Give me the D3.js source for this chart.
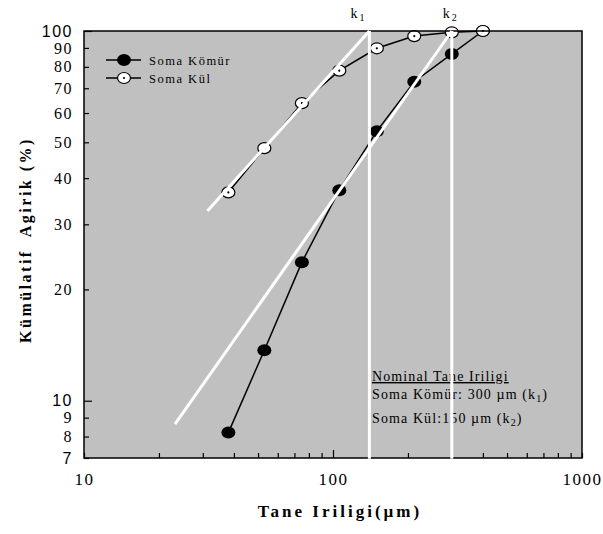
<!DOCTYPE html>
<html>
<head>
<meta charset="utf-8">
<script src="https://cdn.jsdelivr.net/npm/d3@7"></script>
<style>
  body { margin: 0; background: #fff; }
  text { font-family: "Liberation Serif", "Times New Roman", serif; fill: #000; }
  .sans { font-family: "Liberation Sans", Arial, sans-serif; }
</style>
</head>
<body>
<svg id="chart" width="603" height="534"></svg>
<script>
// sieve sizes (µm) and cumulative weight (%)
const sieveSizes = [38, 53, 75, 106, 150, 212, 300, 400];
const komurValues = [8.2, 13.7, 23.7, 37.1, 53.6, 72.9, 86.7, 100];
const kulValues = [36.6, 48.2, 63.8, 78.1, 89.8, 96.9, 99.2, 100];

// white guide lines drawn by hand on the original
const kulFitX = [31.3, 140];
const kulFitY = [32.6, 100];
const komurFitX = [23.2, 300];
const komurFitY = [8.65, 100];
const kLines = [140, 300];
const kNames = ['1', '2'];

const yTicks = [7, 8, 9, 10, 20, 30, 40, 50, 60, 70, 80, 90, 100];
const xTicks = [10, 20, 30, 40, 50, 60, 70, 80, 90, 100, 200, 300, 400, 500, 600, 700, 800, 900, 1000];
const xLabels = [10, 100, 1000];

const plotLeft = 84, plotRight = 582, plotTop = 31, plotBottom = 458;
const kLabelShift = [-19, -9]; // label offset from its line

const svg = d3.select('#chart');

const x = d3.scaleLog().domain([10, 1000]).range([plotLeft, plotRight]);
const y = d3.scaleLog().domain([7, 100]).range([plotBottom, plotTop]);

// plot background
svg.append('rect')
    .attr('x', plotLeft).attr('y', plotTop)
    .attr('width', plotRight - plotLeft).attr('height', plotBottom - plotTop)
    .attr('fill', '#c0c0c0');

// y axis, ticks pointing inwards
const yAxis = svg.append('g')
    .attr('transform', `translate(${plotLeft},0)`)
    .call(d3.axisLeft(y).tickValues(yTicks).tickSize(-5).tickPadding(11).tickFormat(d3.format('d')));
yAxis.select('.domain').remove();
yAxis.selectAll('.tick line').attr('x2', d => (d === 10 || d === 100) ? 8 : 5).attr('stroke-width', 1.2);
yAxis.selectAll('.tick text')
    .attr('class', d => (d === 100 || d === 10 || d === 7) ? 'sans' : null)
    .style('font-size', '16px')
    .style('letter-spacing', '1.5px');

// x axis
const xAxis = svg.append('g')
    .attr('transform', `translate(0,${plotBottom})`)
    .call(d3.axisBottom(x).tickValues(xTicks).tickSize(-5).tickPadding(15)
        .tickFormat(d => xLabels.includes(d) ? d : ''));
xAxis.select('.domain').remove();
xAxis.selectAll('.tick line').attr('y2', d => d === 100 ? -8 : -5).attr('stroke-width', 1.2);
xAxis.selectAll('.tick text')
    .style('font-size', '17px')
    .style('letter-spacing', '1.5px');

// axis titles
svg.append('text')
    .attr('transform', `translate(31,240)rotate(-90)`)
    .attr('text-anchor', 'middle')
    .style('font-size', '16px')
    .style('font-weight', 'bold')
    .style('letter-spacing', '2.5px')
    .style('white-space', 'pre')
    .text('Kümülatif  Agirik (%)');

svg.append('text')
    .attr('x', 340).attr('y', 517)
    .attr('text-anchor', 'middle')
    .style('font-size', '17px')
    .style('font-weight', 'bold')
    .style('letter-spacing', '3px')
    .text('Tane Iriligi(µm)');

// series
const komur = sieveSizes.map((s, i) => [s, komurValues[i]]);
const kul = sieveSizes.map((s, i) => [s, kulValues[i]]);
const line = d3.line().x(d => x(d[0])).y(d => y(d[1]));

svg.append('path').datum(komur)
    .attr('d', line).attr('fill', 'none').attr('stroke', '#000').attr('stroke-width', 1.5);
svg.append('path').datum(kul)
    .attr('d', line).attr('fill', 'none').attr('stroke', '#000').attr('stroke-width', 1.5);

svg.append('g').selectAll('ellipse').data(komur).join('ellipse')
    .attr('cx', d => x(d[0])).attr('cy', d => y(d[1]))
    .attr('rx', 7).attr('ry', 6).attr('fill', '#000');

const kulMarks = svg.append('g').selectAll('g').data(kul).join('g')
    .attr('transform', d => `translate(${x(d[0])},${y(d[1])})`);
kulMarks.append('ellipse').attr('rx', 6.5).attr('ry', 5.5)
    .attr('fill', '#fff').attr('stroke', '#000').attr('stroke-width', 1.2);
kulMarks.append('circle').attr('r', 1.1).attr('fill', '#000');

// legend
const legend = [
    { name: 'Soma Kömür', filled: true },
    { name: 'Soma Kül', filled: false }
];
legend.forEach((l, i) => {
    const ly = 60 + i * 18;
    svg.append('line').attr('x1', 106).attr('x2', 141).attr('y1', ly).attr('y2', ly)
        .attr('stroke', '#000').attr('stroke-width', 1.5);
    if (l.filled) {
        svg.append('ellipse').attr('cx', 124).attr('cy', ly).attr('rx', 7).attr('ry', 6).attr('fill', '#000');
    } else {
        svg.append('ellipse').attr('cx', 124).attr('cy', ly).attr('rx', 6.5).attr('ry', 5.5)
            .attr('fill', '#fff').attr('stroke', '#000').attr('stroke-width', 1.2);
        svg.append('circle').attr('cx', 124).attr('cy', ly).attr('r', 1.1).attr('fill', '#000');
    }
    svg.append('text').attr('x', 149).attr('y', ly + 4.5)
        .style('font-size', '12.5px').style('letter-spacing', '1.5px')
        .text(l.name);
});

// annotation
const note = svg.append('g').style('font-size', '14px').style('letter-spacing', '1.1px');
note.append('text').attr('x', 372).attr('y', 381)
    .style('text-decoration', 'underline')
    .text('Nominal Tane Iriligi');
const n1 = note.append('text').attr('x', 372).attr('y', 399).text('Soma Kömür: 300 µm (k');
n1.append('tspan').attr('dy', 3).style('font-size', '10px').text('1');
n1.append('tspan').attr('dy', -3).text(')');
const n2 = note.append('text').attr('x', 372).attr('y', 423).text('Soma Kül:150 µm (k');
n2.append('tspan').attr('dy', 3).style('font-size', '10px').text('2');
n2.append('tspan').attr('dy', -3).text(')');

// plot border
svg.append('rect')
    .attr('x', plotLeft).attr('y', plotTop)
    .attr('width', plotRight - plotLeft).attr('height', plotBottom - plotTop)
    .attr('fill', 'none').attr('stroke', '#000').attr('stroke-width', 1.5);

// white guide lines on top
[[kulFitX, kulFitY], [komurFitX, komurFitY]].forEach(([fx, fy]) => {
    svg.append('line')
        .attr('x1', x(fx[0])).attr('y1', y(fy[0]))
        .attr('x2', x(fx[1])).attr('y2', y(fy[1]))
        .attr('stroke', '#fff').attr('stroke-width', 3);
});
kLines.forEach((k, i) => {
    svg.append('line')
        .attr('x1', x(k)).attr('x2', x(k))
        .attr('y1', plotTop).attr('y2', plotBottom + 0.8)
        .attr('stroke', '#fff').attr('stroke-width', 3);
    const t = svg.append('text')
        .attr('x', x(k) + kLabelShift[i]).attr('y', 18)
        .style('font-size', '14px')
        .text('k');
    t.append('tspan').attr('dy', 3).attr('dx', 2).style('font-size', '10px').text(kNames[i]);
});
</script>
</body>
</html>
